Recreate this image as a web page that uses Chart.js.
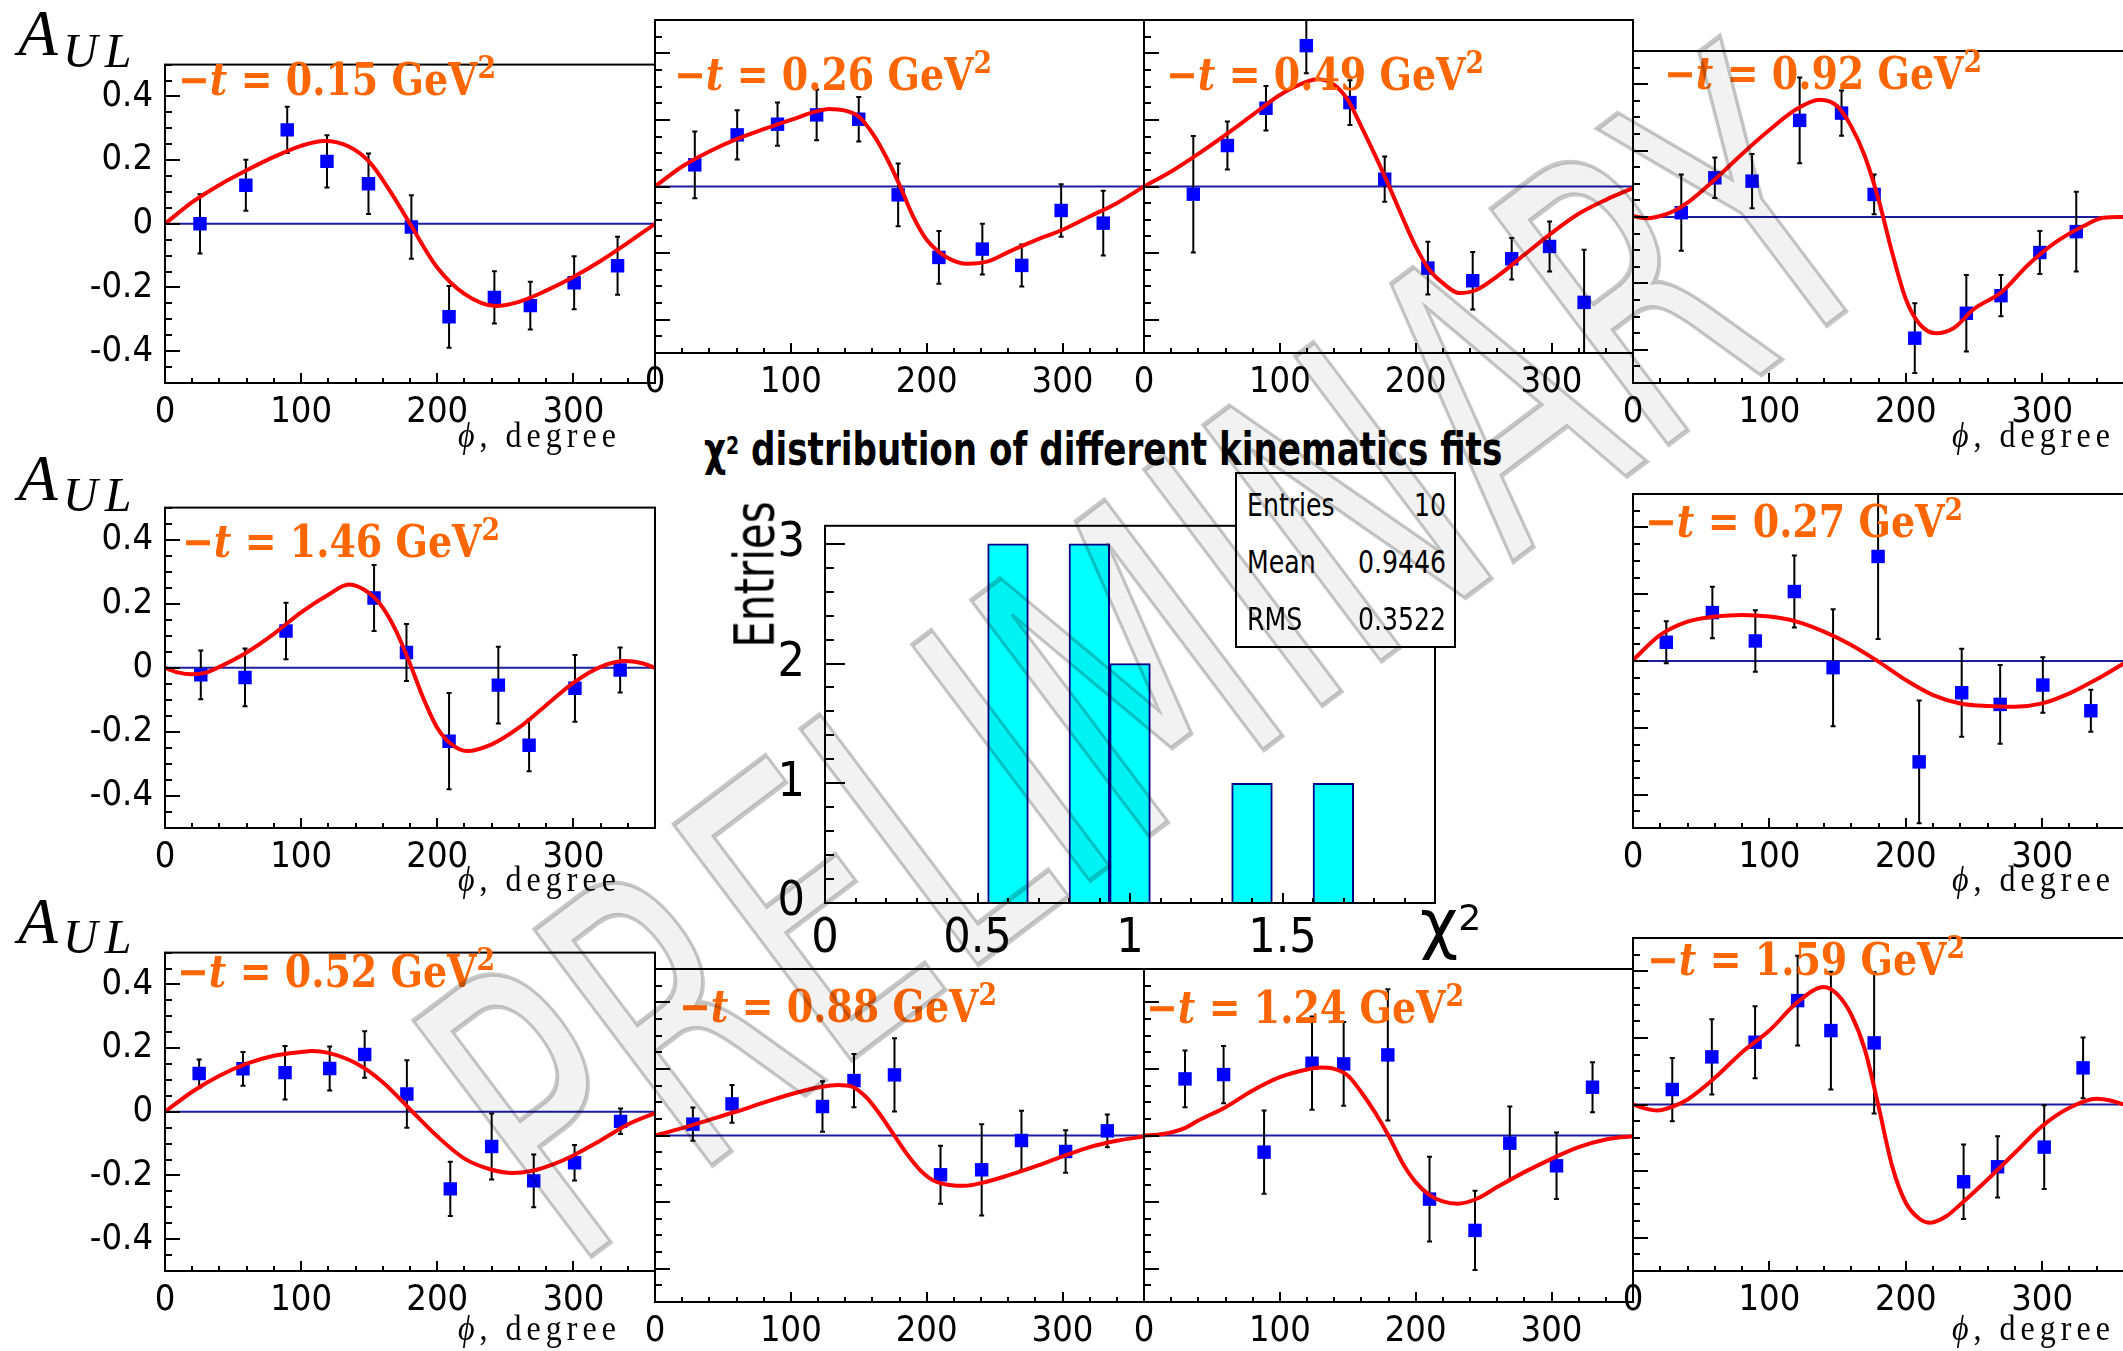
<!DOCTYPE html>
<html>
<head>
<meta charset="utf-8">
<title>A_UL vs phi, -t bins</title>
<script src="https://cdn.jsdelivr.net/npm/chart.js@4.4.1/dist/chart.umd.min.js"></script>
<style>
  html, body { margin: 0; padding: 0; background: #fff; }
  body { width: 2123px; height: 1351px; overflow: hidden; }
  #page { position: relative; width: 2123px; height: 1351px; overflow: hidden; }
  canvas { position: absolute; }
  .note { position: absolute; left: 0; top: 0; white-space: nowrap; line-height: 1; }
  .note .bl { display: inline-block; width: 0; height: 0; }
  .tag { font: bold 38px 'DejaVu Serif', serif; color: #ff6600; }
  .tag sup { font-size: 0.7em; vertical-align: 0.55em; line-height: 0; }
  .aul { font: italic 65px 'Liberation Serif', serif; color: #000; }
  .aul.sub { font-size: 48px; letter-spacing: 7px; }
  .phi { font: 32px 'Liberation Serif', 'DejaVu Serif', serif; letter-spacing: 5px; color: #000; }
  .htitle { font: bold 38px 'DejaVu Sans Condensed', 'DejaVu Sans', sans-serif; font-stretch: condensed; color: #000; }
  .htitle sup, .chi sup { font-size: 0.55em; vertical-align: 0.45em; line-height: 0; }
  .chi { font: 66px 'DejaVu Sans', sans-serif; color: #000; }
  .ytitle { font: 42px 'DejaVu Sans', sans-serif; color: #000; transform: rotate(-90deg) scaleY(1.3); }
  #stats { position: absolute; left: 1235px; top: 472px; width: 221px; height: 176px; box-sizing: border-box;
           border: 2px solid #000; background: #fff; padding: 3px 8px 0 10px;
           font: 28px 'DejaVu Sans Condensed', 'DejaVu Sans', sans-serif; font-stretch: condensed; }
  #stats div { display: flex; justify-content: space-between; height: 57px; line-height: 57px; }
  #stats span { display: inline-block; transform: scaleY(1.15); }
  #wm { position: absolute; left: 0; top: 0; white-space: nowrap; line-height: 1;
        font: 405px 'DejaVu Sans', sans-serif; color: rgba(0, 0, 0, 0.05);
        -webkit-text-stroke: 5px rgba(0, 0, 0, 0.22); transform: rotate(-37deg) scaleX(0.62); }
</style>
</head>
<body>
<div id="page"></div>
<script>
// -t of each kinematic bin, GeV^2
const tBins = [0.15, 0.26, 0.49, 0.92, 1.46, 0.27, 0.52, 0.88, 1.24, 1.59];

// axis ticks
const phiTicks = [0, 100, 200, 300];
const aulTicks = [-0.4, -0.2, 0, 0.2, 0.4];
const chi2Ticks = [0, 0.5, 1, 1.5];
const entryTicks = [0, 1, 2, 3];

// measured asymmetry: phi bin centre (deg), A_UL, stat. error; fitted curve samples
const phi015 = [25.7, 59.4, 89.8, 119.0, 149.5, 181.0, 208.7, 242.0, 268.4, 300.6, 332.5];
const aul015 = [0.000, 0.121, 0.295, 0.196, 0.126, -0.010, -0.292, -0.231, -0.257, -0.185, -0.132];
const err015 = [0.093, 0.080, 0.073, 0.082, 0.095, 0.100, 0.097, 0.082, 0.075, 0.083, 0.091];
const fitPhi015 = [0, 20, 40, 60, 80, 100, 117, 135, 150, 165, 180, 200, 220, 243, 260, 280, 300, 320, 340, 360];
const fit015 = [0.000, 0.068, 0.122, 0.168, 0.210, 0.245, 0.260, 0.243, 0.195, 0.105, 0.000, -0.137, -0.220, -0.258, -0.245, -0.210, -0.167, -0.117, -0.060, 0.000];

const phi026 = [29.3, 60.5, 90.2, 119.0, 150.0, 179.0, 209.0, 241.0, 270.0, 299.0, 330.0];
const aul026 = [0.065, 0.155, 0.187, 0.215, 0.202, -0.025, -0.213, -0.188, -0.237, -0.072, -0.110];
const err026 = [0.100, 0.074, 0.065, 0.076, 0.067, 0.094, 0.079, 0.076, 0.063, 0.079, 0.097];
const fitPhi026 = [0, 20, 40, 60, 80, 100, 120, 128, 140, 150, 160, 170, 180, 190, 200, 215, 230, 245, 260, 280, 300, 320, 340, 360];
const fit026 = [0.000, 0.060, 0.105, 0.142, 0.172, 0.200, 0.227, 0.233, 0.228, 0.210, 0.160, 0.090, 0.005, -0.090, -0.160, -0.213, -0.232, -0.225, -0.197, -0.162, -0.130, -0.090, -0.050, 0.000];

const phi049 = [36.3, 61.4, 89.8, 119.5, 151.6, 177.2, 209.0, 242.0, 270.7, 298.6, 324.0];
const aul049 = [-0.023, 0.123, 0.235, 0.423, 0.252, 0.022, -0.245, -0.283, -0.217, -0.180, -0.348];
const err049 = [0.175, 0.072, 0.067, 0.083, 0.067, 0.068, 0.079, 0.086, 0.062, 0.075, 0.158];
const fitPhi049 = [0, 20, 40, 60, 80, 100, 120, 128, 140, 150, 160, 170, 180, 190, 200, 210, 220, 232, 245, 260, 280, 300, 320, 340, 360];
const fit049 = [0.000, 0.045, 0.098, 0.155, 0.215, 0.275, 0.315, 0.322, 0.305, 0.260, 0.180, 0.095, 0.005, -0.090, -0.180, -0.250, -0.290, -0.320, -0.310, -0.270, -0.205, -0.140, -0.082, -0.040, -0.005];

const phi092 = [35.4, 60.0, 87.3, 122.2, 152.9, 176.8, 206.6, 244.4, 269.8, 298.3, 325.0];
const aul092 = [0.013, 0.118, 0.108, 0.291, 0.313, 0.068, -0.365, -0.290, -0.237, -0.107, -0.044];
const err092 = [0.115, 0.061, 0.082, 0.129, 0.068, 0.060, 0.105, 0.115, 0.062, 0.065, 0.120];
const fitPhi092 = [0, 10, 20, 30, 40, 60, 80, 100, 120, 137, 150, 160, 170, 180, 190, 200, 210, 222, 235, 250, 270, 290, 310, 330, 345, 360];
const fit092 = [0.003, -0.004, 0.003, 0.018, 0.043, 0.113, 0.190, 0.262, 0.325, 0.353, 0.333, 0.273, 0.183, 0.053, -0.107, -0.247, -0.322, -0.350, -0.335, -0.277, -0.227, -0.143, -0.076, -0.028, -0.002, 0.000];

const phi146 = [26.3, 58.8, 88.9, 153.6, 177.4, 208.7, 244.9, 267.5, 301.2, 334.4];
const aul146 = [-0.022, -0.030, 0.115, 0.218, 0.048, -0.229, -0.054, -0.242, -0.064, -0.007];
const err146 = [0.076, 0.090, 0.088, 0.103, 0.089, 0.150, 0.120, 0.081, 0.104, 0.070];
const fitPhi146 = [0, 10, 20, 30, 40, 60, 80, 100, 120, 135, 150, 160, 170, 180, 190, 200, 210, 222, 240, 260, 280, 300, 320, 338, 350, 360];
const fit146 = [0.000, -0.015, -0.020, -0.015, 0.003, 0.048, 0.106, 0.173, 0.228, 0.260, 0.233, 0.188, 0.113, 0.013, -0.097, -0.187, -0.237, -0.260, -0.239, -0.187, -0.117, -0.047, 0.003, 0.021, 0.015, 0.000];

const phi027 = [24.4, 58.2, 89.7, 118.3, 146.7, 179.7, 209.8, 241.0, 269.2, 300.5, 335.7];
const aul027 = [0.056, 0.145, 0.060, 0.208, -0.020, 0.313, -0.302, -0.095, -0.130, -0.072, -0.149];
const err027 = [0.063, 0.077, 0.092, 0.108, 0.175, 0.247, 0.184, 0.132, 0.118, 0.083, 0.063];
const fitPhi027 = [0, 20, 40, 60, 80, 100, 120, 140, 160, 180, 200, 220, 240, 260, 280, 300, 320, 340, 360];
const fit027 = [0.003, 0.078, 0.118, 0.133, 0.138, 0.133, 0.118, 0.088, 0.048, -0.002, -0.057, -0.102, -0.127, -0.135, -0.137, -0.127, -0.097, -0.055, -0.007];

const phi052 = [25.1, 57.3, 88.2, 121.0, 146.7, 177.7, 209.6, 240.0, 270.9, 300.9, 334.7];
const aul052 = [0.120, 0.135, 0.123, 0.136, 0.180, 0.056, -0.242, -0.109, -0.217, -0.160, -0.030];
const err052 = [0.044, 0.053, 0.084, 0.069, 0.073, 0.106, 0.085, 0.104, 0.083, 0.056, 0.040];
const fitPhi052 = [0, 20, 40, 60, 80, 100, 108, 120, 140, 160, 180, 200, 220, 240, 255, 270, 285, 300, 320, 340, 360];
const fit052 = [0.000, 0.063, 0.113, 0.151, 0.176, 0.188, 0.191, 0.185, 0.153, 0.093, 0.008, -0.077, -0.147, -0.182, -0.192, -0.185, -0.165, -0.137, -0.090, -0.040, -0.004];

const phi088 = [27.9, 56.7, 123.3, 146.5, 176.3, 210.2, 240.5, 269.8, 302.3, 333.0];
const aul088 = [0.034, 0.095, 0.087, 0.165, 0.182, -0.118, -0.103, -0.015, -0.048, 0.014];
const err088 = [0.050, 0.057, 0.076, 0.080, 0.110, 0.087, 0.137, 0.089, 0.064, 0.049];
const fitPhi088 = [0, 20, 40, 60, 80, 100, 120, 135, 145, 155, 165, 175, 185, 195, 205, 220, 228, 240, 260, 280, 300, 320, 340, 360];
const fit088 = [0.000, 0.022, 0.047, 0.072, 0.099, 0.124, 0.144, 0.152, 0.147, 0.117, 0.067, 0.007, -0.053, -0.103, -0.135, -0.150, -0.151, -0.143, -0.120, -0.093, -0.063, -0.035, -0.016, -0.003];

const phi124 = [30.2, 58.6, 88.4, 123.7, 147.0, 179.5, 210.2, 243.7, 269.3, 303.7, 330.2];
const aul124 = [0.170, 0.183, -0.050, 0.217, 0.215, 0.242, -0.191, -0.285, -0.023, -0.091, 0.145];
const err124 = [0.085, 0.086, 0.125, 0.140, 0.126, 0.197, 0.127, 0.119, 0.110, 0.100, 0.075];
const fitPhi124 = [0, 10, 20, 30, 40, 60, 80, 100, 120, 130, 140, 150, 160, 170, 180, 190, 200, 210, 220, 231, 245, 260, 280, 300, 320, 340, 360];
const fit124 = [0.000, 0.002, 0.009, 0.022, 0.045, 0.085, 0.135, 0.175, 0.198, 0.204, 0.200, 0.180, 0.130, 0.070, 0.000, -0.080, -0.140, -0.178, -0.198, -0.205, -0.190, -0.155, -0.110, -0.070, -0.035, -0.012, -0.002];

const phi159 = [28.8, 57.8, 89.5, 120.7, 145.1, 176.8, 242.4, 267.3, 301.5, 330.0];
const aul159 = [0.045, 0.143, 0.187, 0.312, 0.222, 0.185, -0.232, -0.187, -0.128, 0.110];
const err159 = [0.095, 0.113, 0.108, 0.135, 0.177, 0.212, 0.112, 0.092, 0.126, 0.091];
const fitPhi159 = [0, 10, 18, 30, 40, 60, 80, 100, 120, 140, 150, 160, 170, 180, 190, 200, 210, 218, 230, 240, 260, 280, 300, 320, 340, 350, 360];
const fit159 = [0.000, -0.013, -0.018, -0.005, 0.015, 0.080, 0.157, 0.222, 0.305, 0.353, 0.330, 0.270, 0.165, -0.005, -0.185, -0.295, -0.343, -0.355, -0.335, -0.300, -0.225, -0.145, -0.065, -0.010, 0.017, 0.012, 0.000];

// chi2/ndf of the ten fits, 15 bins over [0, 2]
const chi2Range = [0, 2];
const chi2Counts = [0, 0, 0, 0, 3, 0, 3, 2, 0, 0, 1, 0, 1, 0, 0];
const chi2Entries = 10;
const chi2Mean = 0.9446;
const chi2Rms = 0.3522;

const panels = [
  { t: tBins[0], phi: phi015, aul: aul015, err: err015, fitPhi: fitPhi015, fit: fit015 },
  { t: tBins[1], phi: phi026, aul: aul026, err: err026, fitPhi: fitPhi026, fit: fit026 },
  { t: tBins[2], phi: phi049, aul: aul049, err: err049, fitPhi: fitPhi049, fit: fit049 },
  { t: tBins[3], phi: phi092, aul: aul092, err: err092, fitPhi: fitPhi092, fit: fit092 },
  { t: tBins[4], phi: phi146, aul: aul146, err: err146, fitPhi: fitPhi146, fit: fit146 },
  { t: tBins[5], phi: phi027, aul: aul027, err: err027, fitPhi: fitPhi027, fit: fit027 },
  { t: tBins[6], phi: phi052, aul: aul052, err: err052, fitPhi: fitPhi052, fit: fit052 },
  { t: tBins[7], phi: phi088, aul: aul088, err: err088, fitPhi: fitPhi088, fit: fit088 },
  { t: tBins[8], phi: phi124, aul: aul124, err: err124, fitPhi: fitPhi124, fit: fit124 },
  { t: tBins[9], phi: phi159, aul: aul159, err: err159, fitPhi: fitPhi159, fit: fit159 }
];

// page layout: plot frames [left, top, right, bottom], tag anchors [left, baseline]
const frames = [
  [165, 51, 655, 383], [655, 20, 1144, 353], [1144, 20, 1633, 353], [1633, 51, 2124, 383],
  [165, 494, 655, 828], [1633, 494, 2124, 828],
  [165, 939, 655, 1271], [655, 969, 1144, 1302], [1144, 969, 1633, 1302], [1633, 938, 2124, 1271]
];
const withYLabels = [true, false, false, false, true, false, true, false, false, false];
const tagAnchors = [[178, 95], [674, 90], [1166, 90], [1664, 89], [182, 557], [1645, 537],
                    [177, 987], [679, 1022], [1146, 1023], [1647, 975]];
const histFrame = [825, 497, 1435, 903];

const TICK_FONT = "'DejaVu Sans Condensed', 'DejaVu Sans', sans-serif";
const page = document.getElementById('page');

// ROOT style frame: box plus inward tick marks on the left and bottom axes
const framePlugin = {
  id: 'rootFrame',
  afterDatasetsDraw(chart, args, o) {
    const { ctx, chartArea: a, scales: { x, y } } = chart;
    ctx.save();
    ctx.strokeStyle = '#000';
    ctx.lineWidth = 2;
    ctx.beginPath();
    const nx = Math.round((x.max - x.min) / o.xMinor);
    for (let i = 0; i <= nx; i++) {
      const px = Math.round(x.getPixelForValue(x.min + i * o.xMinor));
      ctx.moveTo(px, a.bottom);
      ctx.lineTo(px, a.bottom - o.xMinorLen);
    }
    x.ticks.forEach(t => {
      const px = Math.round(x.getPixelForValue(t.value));
      ctx.moveTo(px, a.bottom);
      ctx.lineTo(px, a.bottom - o.xMajorLen);
    });
    const ny = Math.floor((y.max - y.min) / o.yMinor + 1e-6);
    for (let i = 0; i <= ny; i++) {
      const py = Math.round(y.getPixelForValue(y.min + i * o.yMinor));
      ctx.moveTo(a.left, py);
      ctx.lineTo(a.left + o.yMinorLen, py);
    }
    y.ticks.forEach(t => {
      const py = Math.round(y.getPixelForValue(t.value));
      ctx.moveTo(a.left, py);
      ctx.lineTo(a.left + o.yMajorLen, py);
    });
    ctx.stroke();
    ctx.strokeRect(a.left, a.top, a.width, a.height);
    ctx.restore();
  }
};

// vertical error bars with small caps, drawn just before their markers
const errorBarPlugin = {
  id: 'errorBars',
  beforeDatasetDraw(chart, args) {
    const ds = chart.data.datasets[args.index];
    if (!ds.errorBars) return;
    const { ctx, chartArea: a, scales: { x, y } } = chart;
    ctx.save();
    ctx.beginPath();
    ctx.rect(a.left, a.top, a.width, a.height);
    ctx.clip();
    ctx.strokeStyle = '#000';
    ctx.lineWidth = 2;
    ctx.beginPath();
    ds.data.forEach((p, i) => {
      const e = ds.errorBars[i];
      const px = x.getPixelForValue(p.x);
      const hi = y.getPixelForValue(p.y + e);
      const lo = y.getPixelForValue(p.y - e);
      ctx.moveTo(px, hi); ctx.lineTo(px, lo);
      ctx.moveTo(px - 2.5, hi); ctx.lineTo(px + 2.5, hi);
      ctx.moveTo(px - 2.5, lo); ctx.lineTo(px + 2.5, lo);
    });
    ctx.stroke();
    ctx.restore();
  }
};

function addCanvas(left, top, w, h) {
  const c = document.createElement('canvas');
  c.width = w;
  c.height = h;
  c.style.cssText = `left:${left}px;top:${top}px;width:${w}px;height:${h}px`;
  page.appendChild(c);
  return c;
}

function fixedTicks(values) {
  return s => { s.ticks = values.map(v => ({ value: v })); };
}

const PAD = { left: 100, top: 12, right: 4, bottom: 48 };

function buildPanel(p, box, showY) {
  const [l, t, r, b] = box;
  const canvas = addCanvas(l - PAD.left, t - PAD.top, r - l + PAD.left + PAD.right, b - t + PAD.top + PAD.bottom);
  return new Chart(canvas, {
    type: 'line',
    data: {
      datasets: [
        {
          data: p.fitPhi.map((x, i) => ({ x, y: p.fit[i] })),
          borderColor: '#ff0000', borderWidth: 4, pointRadius: 0,
          cubicInterpolationMode: 'monotone', order: 0
        },
        {
          data: p.phi.map((x, i) => ({ x, y: p.aul[i] })),
          errorBars: p.err,
          showLine: false, pointStyle: 'rect', pointRadius: 9.5,
          pointBackgroundColor: '#0000ff', pointBorderWidth: 0, order: 1
        },
        {
          data: [{ x: 0, y: 0 }, { x: 360, y: 0 }],
          borderColor: '#1c1ca0', borderWidth: 2, pointRadius: 0, order: 2
        }
      ]
    },
    options: {
      responsive: false, animation: false, events: [], devicePixelRatio: 1,
      layout: { padding: { left: 0, top: PAD.top, right: PAD.right, bottom: 0 }, autoPadding: false },
      plugins: {
        legend: { display: false }, tooltip: { enabled: false },
        rootFrame: { xMinor: 20, yMinor: 0.05, xMajorLen: 10, xMinorLen: 5, yMajorLen: 15, yMinorLen: 7 }
      },
      scales: {
        x: {
          type: 'linear', min: 0, max: 360,
          grid: { display: false }, border: { display: false },
          afterBuildTicks: fixedTicks(phiTicks),
          afterFit: s => { s.height = PAD.bottom; },
          ticks: { font: { family: TICK_FONT, size: 36 }, color: '#000', padding: 0,
                   maxRotation: 0, autoSkip: false, callback: v => String(v) }
        },
        y: {
          type: 'linear', min: -0.5, max: 0.5,
          grid: { display: false }, border: { display: false },
          afterBuildTicks: fixedTicks(aulTicks),
          afterFit: s => { s.width = PAD.left; },
          ticks: { display: showY, font: { family: TICK_FONT, size: 36 }, color: '#000', padding: 4,
                   autoSkip: false, callback: v => String(v) }
        }
      }
    },
    plugins: [framePlugin, errorBarPlugin]
  });
}

function buildHistogram(box) {
  const [l, t, r, b] = box;
  const pad = { left: 90, top: 12, right: 5, bottom: 60 };
  const canvas = addCanvas(l - pad.left, t - pad.top, r - l + pad.left + pad.right, b - t + pad.top + pad.bottom);
  const width = (chi2Range[1] - chi2Range[0]) / chi2Counts.length;
  return new Chart(canvas, {
    type: 'bar',
    data: {
      datasets: [{
        data: chi2Counts.map((n, i) => ({ x: chi2Range[0] + (i + 0.5) * width, y: n || null })),
        backgroundColor: '#00ffff', borderColor: '#00008b', borderWidth: 2,
        borderSkipped: 'start', barPercentage: 1, categoryPercentage: 1
      }]
    },
    options: {
      responsive: false, animation: false, events: [], devicePixelRatio: 1,
      layout: { padding: { left: 0, top: pad.top, right: pad.right, bottom: 0 }, autoPadding: false },
      plugins: {
        legend: { display: false }, tooltip: { enabled: false },
        rootFrame: { xMinor: 0.1, yMinor: 0.2, xMajorLen: 10, xMinorLen: 5, yMajorLen: 20, yMinorLen: 9 }
      },
      scales: {
        x: {
          type: 'linear', min: chi2Range[0], max: chi2Range[1], offset: false,
          grid: { display: false }, border: { display: false },
          afterBuildTicks: fixedTicks(chi2Ticks),
          afterFit: s => { s.height = pad.bottom; },
          ticks: { font: { family: TICK_FONT, size: 48 }, color: '#000', padding: 0,
                   maxRotation: 0, autoSkip: false, callback: v => String(v) }
        },
        y: {
          type: 'linear', min: 0, max: 3.15,
          grid: { display: false }, border: { display: false },
          afterBuildTicks: fixedTicks(entryTicks),
          afterFit: s => { s.width = pad.left; },
          ticks: { font: { family: TICK_FONT, size: 48 }, color: '#000', padding: 12,
                   autoSkip: false, callback: v => String(v) }
        }
      }
    },
    plugins: [framePlugin]
  });
}

// html text placed by its left edge and its baseline, optionally stretched upward from the baseline
function putText(html, cls, x, baseline, stretch) {
  const d = document.createElement('div');
  d.className = 'note ' + cls;
  d.innerHTML = html + '<span class="bl"></span>';
  page.appendChild(d);
  const base = d.lastChild.getBoundingClientRect().bottom;
  const box = d.getBoundingClientRect();
  d.style.top = (baseline - (base - box.top)) + 'px';
  d.style.left = x + 'px';
  if (stretch) {
    d.style.transformOrigin = `0 ${base - box.top}px`;
    d.style.transform = `scaleY(${stretch})`;
  }
  return d;
}

function putCentered(text, cls, cx, cy) {
  const d = document.createElement('div');
  d.className = 'note ' + cls;
  d.textContent = text;
  page.appendChild(d);
  d.style.left = (cx - d.offsetWidth / 2) + 'px';
  d.style.top = (cy - d.offsetHeight / 2) + 'px';
  return d;
}

panels.forEach((p, i) => buildPanel(p, frames[i], withYLabels[i]));
buildHistogram(histFrame);

// bin tags
panels.forEach((p, i) => {
  const [x, y] = tagAnchors[i];
  putText(`\u2212<i>t</i> = ${p.t.toFixed(2)} GeV<sup>2</sup>`, 'tag', x, y, 1.18);
});

// row titles A_UL
[[55, 67], [500, 511], [943, 953]].forEach(([a, s]) => {
  putText('A', 'aul', 18, a);
  putText('UL', 'aul sub', 63, s);
});

// phi axis titles under the outer columns
[447, 891, 1340].forEach(y => {
  putText('<i>\u03d5</i>, degree', 'phi', 458, y, 1.15);
  putText('<i>\u03d5</i>, degree', 'phi', 1952, y, 1.15);
});

// histogram titles
putText('\u03c7<sup>2</sup> distribution of different kinematics fits', 'htitle', 704, 465, 1.2);
putText('\u03c7<sup>2</sup>', 'chi', 1420, 946);
putCentered('Entries', 'ytitle', 754, 574);

const stats = document.createElement('div');
stats.id = 'stats';
stats.innerHTML =
  `<div><span>Entries</span><span>${chi2Entries}</span></div>` +
  `<div><span>Mean</span><span>${chi2Mean.toFixed(4)}</span></div>` +
  `<div><span>RMS</span><span>${chi2Rms.toFixed(4)}</span></div>`;
page.appendChild(stats);

// PRELIMINARY stamp across the page
const wm = document.createElement('div');
wm.id = 'wm';
wm.textContent = 'PRELIMINARY';
page.appendChild(wm);
wm.style.left = (1150 - wm.offsetWidth / 2) + 'px';
wm.style.top = (660 - wm.offsetHeight / 2) + 'px';
</script>
</body>
</html>
